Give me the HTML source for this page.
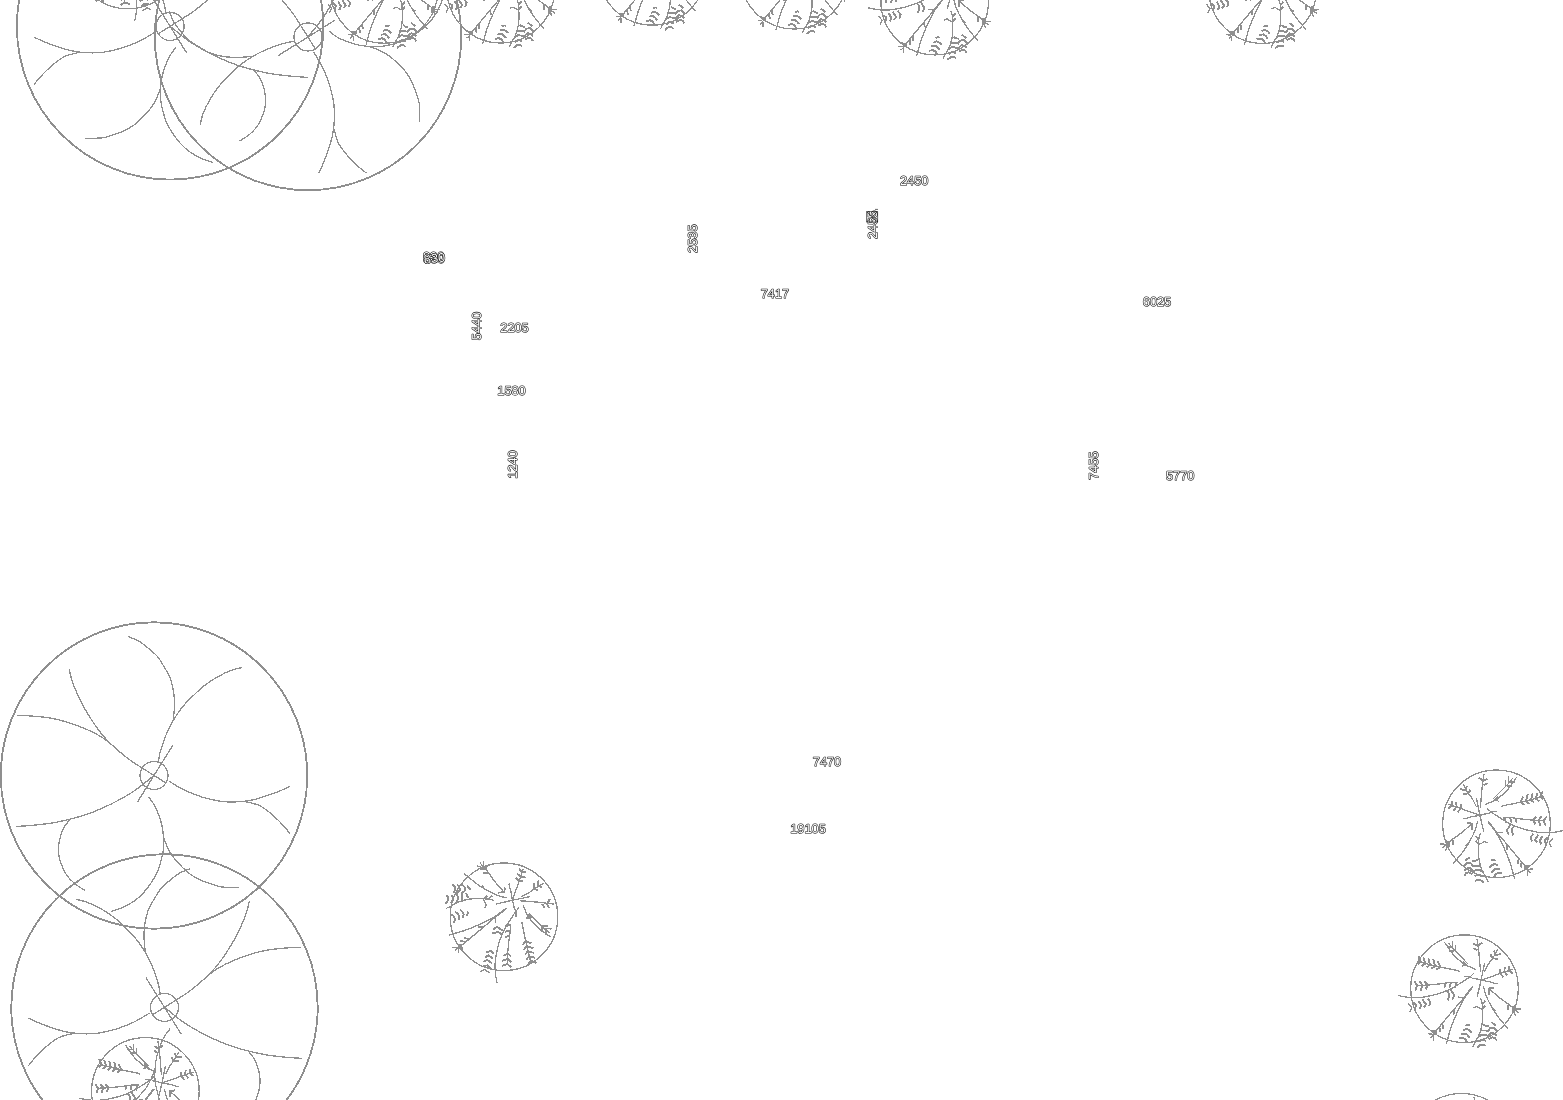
<!DOCTYPE html>
<html lang="en"><head><meta charset="utf-8"><title>Site plan</title>
<style>html,body{margin:0;padding:0;background:#fff;}body{width:1563px;height:1100px;overflow:hidden;font-family:"Liberation Sans",sans-serif;}svg{display:block;position:absolute;left:0;top:0;}</style></head><body>
<svg width="1563" height="1100" viewBox="0 0 1563 1100" shape-rendering="crispEdges">
<defs>
<g id="big" fill="none" stroke="#8f8f8f">
<circle r="153.2" stroke-width="1.85"/>
<circle r="14" stroke-width="1.3"/>
<path stroke-width="1.3" d="M-137 -60.1 C-134.2 -60 -125.7 -59.8 -120 -59.3 C-114.3 -58.8 -108.7 -58.3 -103 -57.3 C-97.3 -56.3 -91.9 -55 -86 -53.1 C-80.1 -51.2 -72.9 -48.5 -67.5 -46.2 C-62.1 -43.9 -57.2 -41.3 -53.6 -39.2 C-50 -37.1 -49.2 -36.5 -45.9 -33.8 C-42.5 -31.1 -37.4 -26.2 -33.5 -23 C-29.6 -19.8 -26.3 -17.1 -22.7 -14.5 C-19.1 -11.9 -15.7 -10 -11.9 -7.6 C-8.1 -5.2 -3.1 -1.9 0 0 C3.1 1.9 4.5 2.7 6.5 4 C8.5 5.3 11.2 7 12.2 7.6 M15 5.7 C17.4 7.1 24.1 11.5 29.6 14.2 C35.1 16.9 42 19.7 48.2 21.6 C54.4 23.5 60.8 25 66.7 25.8 C72.6 26.6 78.3 26.6 83.7 26.3 C89.1 26.1 93.9 25.4 99.1 24.3 C104.2 23.2 110 21.2 114.6 19.6 C119.2 18.1 123.4 16.5 126.9 15 C130.5 13.5 134.4 11.5 135.9 10.8 M-84.8 -106.4 C-84.4 -104.6 -83.5 -99.7 -82.2 -95.6 C-80.9 -91.5 -78.8 -86.3 -76.7 -81.7 C-74.6 -77.1 -72.4 -72.4 -69.8 -67.8 C-67.2 -63.2 -64 -58 -61.3 -53.9 C-58.6 -49.8 -56.2 -46.4 -53.6 -43.1 C-51 -39.8 -47.2 -35.7 -45.9 -34.2 M-25.8 -138.9 C-24 -138.1 -18.4 -136.1 -15 -134.2 C-11.7 -132.3 -8.8 -129.9 -5.7 -127.3 C-2.6 -124.7 1 -121.9 3.6 -118.8 C6.2 -115.7 8 -112.1 10 -108.8 C12 -105.5 14.2 -102.2 15.7 -98.7 C17.2 -95.2 18 -91.5 18.8 -87.9 C19.6 -84.3 20.1 -80.7 20.3 -77.1 C20.6 -73.5 20.5 -70 20.3 -66.3 C20.1 -62.6 19.3 -56.6 19.1 -54.7 M88.3 -108 C86.5 -107.5 81.6 -106.8 77.5 -105.2 C73.4 -103.7 68.2 -101.3 63.6 -98.7 C59 -96.1 53.6 -92.4 49.7 -89.4 C45.8 -86.4 43.5 -83.9 40.4 -80.9 C37.3 -78 34 -74.9 31.2 -71.7 C28.4 -68.5 25.7 -65 23.4 -61.6 C21.1 -58.2 19.2 -55.2 17.3 -51.6 C15.4 -48 13.4 -43.7 11.8 -40 C10.2 -36.3 9 -32.3 8 -29.2 C7 -26.1 6.3 -24.1 5.7 -21.5 C5.1 -18.9 4.6 -15.2 4.4 -13.9 M-137.8 51 C-134.8 50.8 -126 50.3 -120 49.7 C-114 49.1 -107.5 48.4 -101.5 47.4 C-95.5 46.4 -89.4 45 -83.7 43.6 C-78 42.2 -72.8 40.7 -67.5 38.9 C-62.2 37.1 -57.1 35.1 -52 32.8 C-46.9 30.5 -41.5 27.9 -36.6 25.3 C-31.7 22.7 -26.8 19.9 -22.7 17.3 C-18.6 14.7 -15.1 12.1 -11.9 9.6 C-8.7 7.1 -5.4 4.2 -3.4 2.6 C-1.4 1 -0.6 0.4 0 0 M-83.7 43.6 C-84.6 44.8 -87.5 47.9 -89.1 50.5 C-90.6 53.1 -92 55.8 -93 59 C-94 62.2 -95 66.2 -95.3 69.8 C-95.6 73.4 -95.5 77.2 -95 80.6 C-94.5 83.9 -93.4 86.8 -92.2 89.9 C-91 93 -89.7 96.2 -87.6 99.2 C-85.5 102.2 -82.8 105.1 -79.8 107.7 C-76.8 110.3 -71 113.7 -69.3 114.9 M-5.7 21.2 C-4.7 22.6 -1.3 26.5 0.5 29.7 C2.3 32.9 3.8 36.9 5.1 40.5 C6.4 44.1 7.5 47.7 8.2 51.3 C8.9 54.9 9.3 58.5 9.5 62.1 C9.7 65.7 9.8 69.3 9.5 72.9 C9.2 76.5 8.4 79.8 7.4 83.7 C6.4 87.6 5.3 92.2 3.6 96.1 C1.9 100 -0.3 103.4 -2.6 106.9 C-4.9 110.4 -7.5 113.9 -10.3 117 C-13.1 120.1 -16.2 123 -19.6 125.4 C-23 127.8 -26.5 129.8 -30.4 131.6 C-34.3 133.4 -40.7 135.3 -42.8 136 M9.8 62.1 C10.3 63.4 11.2 66.8 12.6 69.8 C14 72.8 15.7 76.6 18 79.9 C20.3 83.2 23.5 86.8 26.5 89.9 C29.5 93 32.4 96 35.8 98.4 C39.1 100.9 43 102.9 46.6 104.6 C50.2 106.3 53.8 107.3 57.4 108.5 C61 109.7 63.6 111 68.2 111.5 C72.8 112 82.1 111.8 84.9 111.8 M92.2 26.3 C94.4 26.9 101.3 28.1 105.3 30 C109.3 31.9 112.8 34.8 116.1 37.4 C119.4 40 122.6 43.1 125.4 45.9 C128.2 48.7 131.3 52.3 133.1 54.4 C134.8 56.5 135.4 57.6 135.9 58.2 M18.7 -30 L-16.6 26.6"/>
</g>
<g id="sm" fill="none" stroke="#8f8f8f">
<circle r="53.8" stroke-width="1.3"/>
<path stroke-width="1.3" d="M-66.5 6.8 C-64.7 7.1 -59.7 8.4 -55.9 8.7 C-52.1 9 -47 8.9 -43.5 8.7 C-40 8.4 -38.2 7.8 -35.2 7.2 C-32.2 6.6 -28.6 5.8 -25.7 4.9 C-22.8 4 -20.1 3 -17.5 1.9 C-14.9 0.8 -12.8 -0.2 -10.4 -1.6 C-8 -3 -5.7 -4.6 -3 -6.3 C-0.3 -8 3.6 -10.5 5.6 -12 C7.6 -13.5 8.6 -14.8 9.2 -15.3 M-0.3 -12.1 C0.7 -12.1 4.2 -12.3 5.6 -12 C7 -11.7 6.8 -10.8 8 -10.4 C9.2 -10 11.3 -9.9 12.7 -9.6 C14.1 -9.3 14.3 -9 16.6 -8.5 C18.9 -8 24 -7.2 26.3 -6.7 C28.6 -6.2 29.3 -5.5 30.5 -5.3 C31.7 -5 32.9 -5.2 33.4 -5.2 M12.7 -49.5 C13 -47.1 14.1 -39.3 14.5 -35.1 C14.9 -30.9 15.2 -27.5 15.4 -24.4 C15.7 -21.2 15.9 -17.6 16 -16.2 M20.1 -25.6 C19.9 -24.4 19.2 -21.4 18.6 -18.5 C18 -15.7 17.3 -11.7 16.6 -8.5 C15.9 -5.3 15.1 -2.1 14.5 0.4 C13.9 2.9 13.3 5 13 6.3 C12.7 7.6 12.8 7.8 12.8 8.1 M20.1 -17 C20.8 -18.4 23.2 -23.4 24.5 -25.6 C25.8 -27.8 26.6 -28 28.1 -30.3 C29.6 -32.6 32.5 -38 33.4 -39.5 M16.6 -8.5 C18.3 -9.1 23.7 -10.9 26.9 -12 C30.1 -13.1 32.2 -14.1 35.8 -15.3 C39.3 -16.5 46.1 -18.7 48.2 -19.4 M24.5 -0.2 C26.2 1.3 31.4 6.1 34.6 8.7 C37.9 11.3 41.7 13.8 44 15.5 C46.3 17.2 47.5 18.2 48.2 18.8 M18.9 -2.5 C19 -1.9 19.4 -0.6 19.8 1 C20.2 2.6 20.9 5 21.6 6.9 C22.3 8.8 22.9 10.1 24 12.3 C25.1 14.5 26.6 17.4 28.1 19.9 C29.6 22.3 31.2 24.8 32.8 27 C34.4 29.2 35.8 30.8 37.5 32.9 C39.2 35 42.2 38.6 43.2 39.7 M16 9.6 C16.2 10.3 17.2 12.3 17.5 14 C17.8 15.7 17.9 16.9 18 19.9 C18.1 22.9 18.3 28.2 18 31.8 C17.7 35.4 17 38.6 16.3 41.2 C15.6 43.9 14.9 45.6 13.9 47.7 C12.9 49.8 11.3 51.9 10.4 53.6 C9.5 55.3 8.7 57.3 8.3 58 M-28.1 41.8 C-25.2 38.2 -15 26 -10.4 20.5 C-5.8 15 -3.4 12.5 -0.3 8.7 C2.9 4.9 7 -0.6 8.5 -2.5 M-18.3 55.1 C-18.1 54.4 -17.6 53.2 -16.9 50.7 C-16.2 48.2 -15.1 43.5 -13.9 40 C-12.7 36.5 -11.3 32.9 -9.8 29.4 C-8.3 25.9 -6.6 22.1 -5 18.8 C-3.4 15.6 -1.9 12.6 -0.3 9.9 C1.3 7.2 2.9 4.9 4.4 2.8 C5.9 0.7 7.8 -1.6 8.5 -2.5 M-20.1 -46.6 C-18.5 -44.4 -13.9 -37.1 -10.4 -33.3 C-6.9 -29.5 -1.9 -25.8 0.9 -23.8 C3.7 -21.8 4.5 -22.3 6.2 -21.5 C7.9 -20.7 10.4 -19.5 11.2 -19.1 M-12.7 -41 C-10.7 -39 -3.5 -31.9 -0.9 -29.2 C1.8 -26.5 2.5 -25.7 3.2 -25 M-44 -26.5 C-40.7 -25.7 -30.4 -23 -24 -21.6 C-17.6 -20.2 -8.7 -18.5 -5.6 -17.9 M-46.4 -3.2 C-44.5 -3.3 -38.9 -3.5 -35.2 -3.8 C-31.5 -4.1 -27.8 -4.5 -24 -4.9 C-20.2 -5.3 -15.6 -6.2 -12.7 -6.4 C-9.8 -6.7 -7.8 -6.4 -6.8 -6.4 M17.7 20.5 C17.3 20.4 16 20 15.1 19.6 C14.2 19.2 13.4 17.9 12.4 17.9 C11.4 17.8 9.5 19.1 8.9 19.3 M11.8 -49.5 L13.3 -49.5 M49 20.5 L56.2 20.2 M49 20.5 L54.1 23.8 M49 20.5 L50.8 27 M-6.2 8.4 L-0.3 9 M-36.4 45.1 L-31.6 45.6 M-34 48.9 L-31 46.5 M-31 46.5 L-31 51.8 M-16 -45.4 L-12.7 -41.6 M-12.1 -47.5 L-11.8 -41 M-9.2 -43.6 L-9.2 -38 M-5.6 -17.9 L-5.6 -16.9 M-56.1 14.6 L-52.6 19.3 L-54.7 23.5"/>
<path stroke-width="1.9" d="M8.9 -45.1 L12.8 -43 L18 -46 M8.9 -40.7 L12.8 -38.3 M26 -34.2 L28.1 -30.3 L33.4 -30 M29.3 -38 L31 -33.9 L36.4 -34.5 M35.8 -19.4 L35.8 -15.3 L39 -11.4 M40.2 -21.5 L39.9 -17.3 L42.9 -13.2 M44.9 -22.4 L44.6 -17.9 L48.2 -15.3 M-41.1 -31.2 L-39.3 -25 L-42.9 -22.4 M-36.1 -30.3 L-34.6 -23.7 L-37.8 -21.2 M-31.3 -29.5 L-29.3 -22.5 L-33.1 -20 M-26.6 -27.4 L-24 -21.6 L-28.1 -19.1 M-50.2 -7.3 L-47.3 -3.2 L-49.1 1.9 M-45.2 -7.3 L-42 -3.8 L-44 1.9 M-39.9 -7.3 L-36.7 -3.8 L-39 0.7 M-19 -5.5 L-20.1 -1.1 M-13.6 -6.1 L-15.1 -1.1 M-7.7 -6.1 L-9.8 -1.1 M-46.1 12 L-43.2 17 L-44.9 20.5 M-42 10.8 L-38.4 15.8 L-40.8 18.8 M-37 9.9 L-34 13.4 L-35.5 17.6 M0.9 37.1 L3.2 36.2 L5.3 36.5 M-1.2 41.5 L2 40.3 L5.3 41.8 L7.1 43.9 M-3.3 45.3 L0.9 44.8 L3.2 46.5 L5 48.9 M-5.9 49.8 L-2.1 48.9 L0.9 50.4 L2.3 53.3 M29.3 -1 L24.5 -0.2 L24.2 6 M43.4 15.8 L43.4 20.8 M28.1 19.9 L31 22 M17.7 15.8 L21 12 M17.7 20.5 L21 17 M-18 -41.9 L-12.7 -41.9 M-15.1 -38 L-10.4 -38 M-46.1 -32.4 L-44 -27.4 L-46.7 -24.1 M-17.5 2.2 L-15.1 5.8 L-16.6 11.7 M-13.9 1 L-10.1 6.9 L-12.4 10.8 M-51.4 13.7 L-48.5 16.4 L-49.4 21.1 M18.9 35.6 L21 37.1 L24.2 37.7 M26.9 33.5 L29.3 35.3 L31.3 37.1 M15.1 41.8 L21 41.8 L23.4 42.4 L25.7 39.4 L29.3 39.1 L32.8 42.7 M13.3 48.3 L17.5 45.9 L21 46.5 L23.4 47.1 L26.9 43.9 L29.9 44.8 L32.2 46.8 M13.9 53.3 L16.9 51 L19.8 51.3 L21.6 52.4 M24 50.4 L28.1 48.6 L30.5 49.5 L32.2 51.8 M12.7 58.6 L16.3 56 L19.8 56 L21.3 57.5 M-10.4 20.6 L-10.1 25.8 M-22.2 34.7 L-21.3 40 M-25.1 38.2 L-24.2 43.6 M-0.3 9 L8.5 -2.5"/>
<path stroke="none" fill="#8f8f8f" d="M47 17.6 L51.7 15.8 L49.4 24.1 L47 23.5Z M-33.4 41.2 L-27.5 41.8 L-27.8 45.9 L-31 45.9Z M-0.9 -28 L3.3 -23.8 L-2.3 -22Z"/>
</g>
</defs>
<rect width="1563" height="1100" fill="#fff"/>
<use href="#big" transform="translate(154 775.5)"/>
<use href="#big" transform="translate(164.5 1007.4) scale(-1 1)"/>
<use href="#big" transform="translate(170.1 26.4) scale(-1 1)"/>
<use href="#big" transform="translate(308 37) rotate(-90) scale(-1 1)"/>
<use href="#sm" transform="translate(384.2 -10.6)"/>
<use href="#sm" transform="translate(500.8 -10.8)"/>
<use href="#sm" transform="translate(652.1 -28.7)"/>
<use href="#sm" transform="translate(794 -24.8)"/>
<use href="#sm" transform="translate(934.7 1.1)"/>
<use href="#sm" transform="translate(1262.6 -10.4)"/>
<use href="#sm" transform="translate(1464.5 988.7)"/>
<use href="#sm" transform="translate(1461.5 1147.3)"/>
<use href="#sm" transform="translate(145.4 1091.4)"/>
<use href="#sm" transform="translate(1496.5 823.8) scale(-1 1)"/>
<use href="#sm" transform="translate(504 916.8) rotate(90) scale(-1 1)"/>
<use href="#sm" transform="translate(127.8 -45) rotate(-90)"/>
<g font-family="'Liberation Sans', sans-serif" font-size="12.8" fill="#fff" stroke="#000" stroke-width="1.1" paint-order="stroke" stroke-linejoin="round" text-anchor="middle" shape-rendering="auto" text-rendering="geometricPrecision" style="filter:grayscale(1)">
<text x="914.2" y="185.4">2450</text>
<text x="434" y="262.6">830</text>
<text x="774.9" y="297.8">7417</text>
<text x="1157" y="305.9">6025</text>
<text x="514.5" y="332.3">2205</text>
<text x="511.5" y="394.9">1580</text>
<text x="1180.2" y="480.3">5770</text>
<text x="827" y="766.3">7470</text>
<text x="808" y="833.3">19105</text>
<text transform="translate(876.6 224.8) rotate(-90)">2455</text>
<text transform="translate(697.3 238.7) rotate(-90)">2535</text>
<text transform="translate(481.2 326) rotate(-90)">5440</text>
<text transform="translate(517.4 464.6) rotate(-90)">1240</text>
<text transform="translate(1098.2 465.6) rotate(-90)">7455</text>
<text x="433.6" y="261.4">830</text>
<text x="434.4" y="262.6" transform="rotate(-6 434 257)">830</text>
</g>
<g fill="none" stroke="#000" stroke-width="0.6" shape-rendering="auto"><path d="M866.6 211.6H877.6V222H866.6Z M866.6 211.6L877.6 222 M877.6 211.6L866.6 222 M875 209.4H878"/></g>
</svg></body></html>
